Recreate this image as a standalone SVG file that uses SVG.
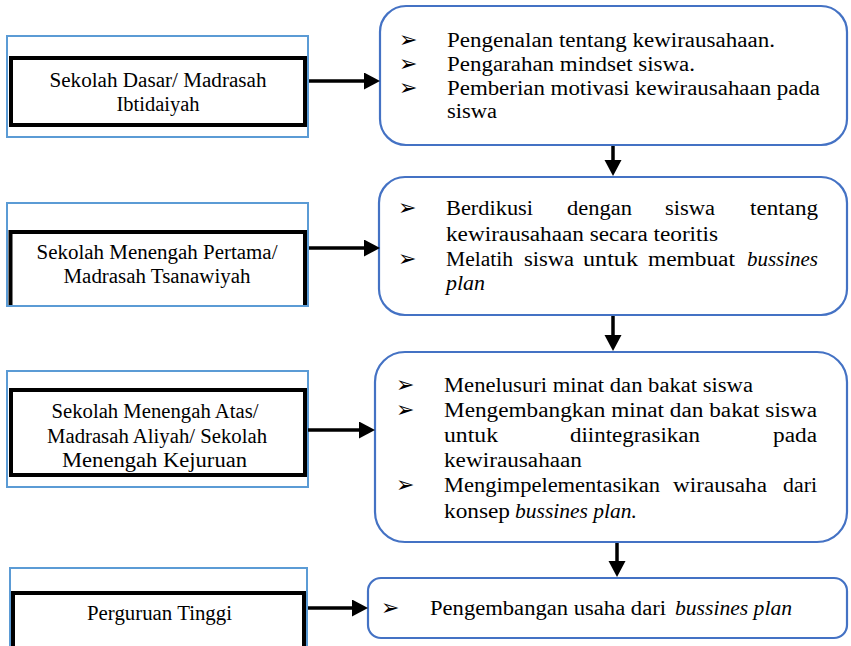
<svg xmlns="http://www.w3.org/2000/svg" width="851" height="646" viewBox="0 0 851 646">
<style>
  .outer { fill: #ffffff; stroke: #5B9BD5; stroke-width: 2; }
  .inner { fill: #ffffff; stroke: #000000; stroke-width: 4; }
  .innerOpen { fill: none; stroke: #000000; stroke-width: 4; }
  .rbox { fill: #ffffff; stroke: #4472C4; stroke-width: 2.2; }
  .t { font-family: "Liberation Serif", "Times New Roman", serif; font-size: 20.5px; fill: #000000; }
  .c { text-anchor: middle; }
  .i { font-style: italic; }
  .b { font-family: "DejaVu Sans", "Noto Sans", sans-serif; font-size: 22px; fill: #000000; }
  .conn { stroke: #000000; stroke-width: 3.5; fill: none; }
</style>
<defs>
  <marker id="ah" markerUnits="userSpaceOnUse" markerWidth="16" markerHeight="18" refX="0" refY="8.5" orient="auto">
    <path d="M0,0 L16,8.5 L0,17 z" fill="#000000"/>
  </marker>
</defs>
<rect width="851" height="646" fill="#ffffff"/>

<g id="left1">
  <rect class="outer" x="7" y="36" width="301" height="101"/>
  <rect class="inner" x="11" y="58" width="294" height="67"/>
  <text class="t c" x="158" y="87" textLength="217" lengthAdjust="spacingAndGlyphs">Sekolah Dasar/ Madrasah</text>
  <text class="t c" x="158" y="111" textLength="83" lengthAdjust="spacingAndGlyphs">Ibtidaiyah</text>
</g>

<g id="left2">
  <rect class="outer" x="7" y="203" width="301" height="103"/>
  <path class="innerOpen" d="M10.5,305 V232 H305 V305"/>
  <text class="t c" x="157" y="259" textLength="241" lengthAdjust="spacingAndGlyphs">Sekolah Menengah Pertama/</text>
  <text class="t c" x="157" y="283" textLength="187" lengthAdjust="spacingAndGlyphs">Madrasah Tsanawiyah</text>
</g>

<g id="left3">
  <rect class="outer" x="7" y="371" width="301" height="116"/>
  <rect class="inner" x="11" y="390" width="294" height="85"/>
  <text class="t c" x="155" y="418" textLength="207" lengthAdjust="spacingAndGlyphs">Sekolah Menengah Atas/</text>
  <text class="t c" x="157" y="443" textLength="220" lengthAdjust="spacingAndGlyphs">Madrasah Aliyah/ Sekolah</text>
  <text class="t c" x="154.5" y="467" textLength="185" lengthAdjust="spacingAndGlyphs">Menengah Kejuruan</text>
</g>

<g id="left4">
  <path class="outer" d="M10,647 V568 H307 V647"/>
  <path class="innerOpen" d="M13,647 V593 H304 V647"/>
  <text class="t c" x="159.5" y="620" textLength="145" lengthAdjust="spacingAndGlyphs">Perguruan Tinggi</text>
</g>

<g id="right1">
  <rect class="rbox" x="380" y="6" width="467" height="139" rx="26" ry="26"/>
  <text class="b" x="399" y="47">➢</text>
  <text class="b" x="399" y="71">➢</text>
  <text class="b" x="399" y="95">➢</text>
  <text class="t" x="447" y="47" textLength="328" lengthAdjust="spacingAndGlyphs">Pengenalan tentang kewirausahaan.</text>
  <text class="t" x="447" y="71" textLength="248" lengthAdjust="spacingAndGlyphs">Pengarahan mindset siswa.</text>
  <text class="t" x="447" y="95" textLength="373" lengthAdjust="spacingAndGlyphs">Pemberian motivasi kewirausahaan pada</text>
  <text class="t" x="447" y="118" textLength="50" lengthAdjust="spacingAndGlyphs">siswa</text>
</g>

<g id="right2">
  <rect class="rbox" x="379" y="177" width="468" height="138" rx="26" ry="26"/>
  <text class="b" x="398" y="215">➢</text>
  <text class="b" x="398" y="266">➢</text>
  <text class="t" x="446" y="215" textLength="87" lengthAdjust="spacingAndGlyphs">Berdikusi</text>
  <text class="t" x="567" y="215" textLength="65" lengthAdjust="spacingAndGlyphs">dengan</text>
  <text class="t" x="665" y="215" textLength="50" lengthAdjust="spacingAndGlyphs">siswa</text>
  <text class="t" x="750" y="215" textLength="68" lengthAdjust="spacingAndGlyphs">tentang</text>
  <text class="t" x="446" y="241" textLength="272" lengthAdjust="spacingAndGlyphs">kewirausahaan secara teoritis</text>
  <text class="t" x="446" y="266" textLength="67" lengthAdjust="spacingAndGlyphs">Melatih</text>
  <text class="t" x="524" y="266" textLength="50" lengthAdjust="spacingAndGlyphs">siswa</text>
  <text class="t" x="583" y="266" textLength="55" lengthAdjust="spacingAndGlyphs">untuk</text>
  <text class="t" x="648" y="266" textLength="87" lengthAdjust="spacingAndGlyphs">membuat</text>
  <text class="t i" x="747" y="266" textLength="71" lengthAdjust="spacingAndGlyphs">bussines</text>
  <text class="t i" x="446" y="290" textLength="39" lengthAdjust="spacingAndGlyphs">plan</text>
</g>

<g id="right3">
  <rect class="rbox" x="375" y="352" width="472" height="190" rx="30" ry="30"/>
  <text class="b" x="396" y="392">➢</text>
  <text class="b" x="396" y="417">➢</text>
  <text class="b" x="396" y="492">➢</text>
  <text class="t" x="444" y="392" textLength="309" lengthAdjust="spacingAndGlyphs">Menelusuri minat dan bakat siswa</text>
  <text class="t" x="444" y="417" textLength="373" lengthAdjust="spacingAndGlyphs">Mengembangkan minat dan bakat siswa</text>
  <text class="t" x="444" y="442" textLength="54" lengthAdjust="spacingAndGlyphs">untuk</text>
  <text class="t" x="570" y="442" textLength="130" lengthAdjust="spacingAndGlyphs">diintegrasikan</text>
  <text class="t" x="773" y="442" textLength="44" lengthAdjust="spacingAndGlyphs">pada</text>
  <text class="t" x="444" y="467" textLength="138" lengthAdjust="spacingAndGlyphs">kewirausahaan</text>
  <text class="t" x="444" y="492" textLength="216" lengthAdjust="spacingAndGlyphs">Mengimpelementasikan</text>
  <text class="t" x="673" y="492" textLength="94" lengthAdjust="spacingAndGlyphs">wirausaha</text>
  <text class="t" x="783" y="492" textLength="34" lengthAdjust="spacingAndGlyphs">dari</text>
  <text class="t" x="444" y="518" textLength="66" lengthAdjust="spacingAndGlyphs">konsep</text>
  <text class="t i" x="515" y="518" textLength="122" lengthAdjust="spacingAndGlyphs">bussines plan.</text>
</g>

<g id="right4">
  <rect class="rbox" x="368" y="578" width="479" height="60" rx="13" ry="13"/>
  <text class="b" x="381" y="615">➢</text>
  <text class="t" x="430" y="615" textLength="236" lengthAdjust="spacingAndGlyphs">Pengembangan usaha dari</text>
  <text class="t i" x="675" y="615" textLength="117" lengthAdjust="spacingAndGlyphs">bussines plan</text>
</g>

<g id="connectors">
  <line class="conn" x1="309" y1="81" x2="364" y2="81" marker-end="url(#ah)"/>
  <line class="conn" x1="309" y1="248" x2="364" y2="248" marker-end="url(#ah)"/>
  <line class="conn" x1="308" y1="430" x2="359" y2="430" marker-end="url(#ah)"/>
  <line class="conn" x1="308" y1="608" x2="352" y2="608" marker-end="url(#ah)"/>
  <line class="conn" x1="613" y1="146" x2="613" y2="160" marker-end="url(#ah)"/>
  <line class="conn" x1="613" y1="316" x2="613" y2="335" marker-end="url(#ah)"/>
  <line class="conn" x1="617" y1="543" x2="617" y2="561" marker-end="url(#ah)"/>
</g>
</svg>
